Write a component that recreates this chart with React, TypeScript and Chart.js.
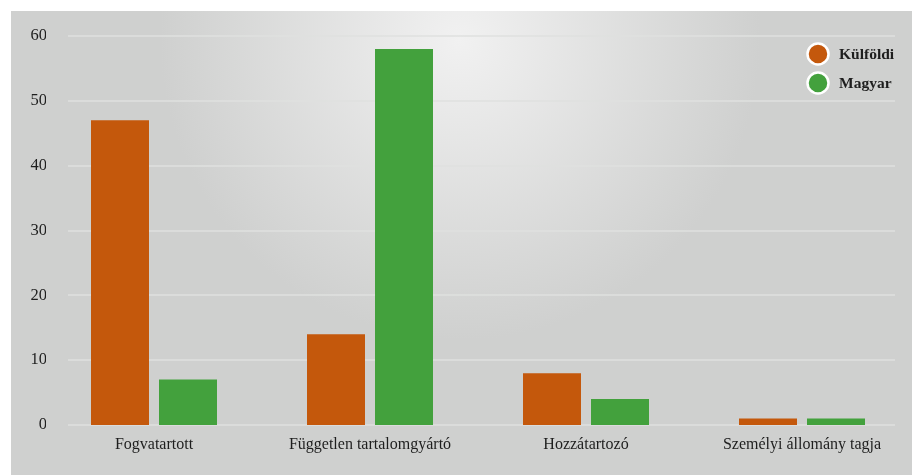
import React, { useEffect, useRef } from "react";
import { Chart, registerables } from "chart.js";

Chart.register(...registerables);

const categories = ["Fogvatartott", "Független tartalomgyártó", "Hozzátartozó", "Személyi állomány tagja"];
const seriesNames = ["Külföldi", "Magyar"];
const kulfoldi = [47, 14, 8, 1];
const magyar = [7, 58, 4, 1];
const yTicks = [0, 10, 20, 30, 40, 50, 60];
const colors = ["#c4580c", "#43a13d"];

const FONT = "'Liberation Serif', 'Times New Roman', serif";

const gridPlugin = {
  id: "customGrid",
  beforeDatasetsDraw(chart: any) {
    const { ctx, scales } = chart;
    const y = scales.y;
    ctx.save();
    ctx.strokeStyle = "#dfe0df";
    ctx.lineWidth = 1.5;
    yTicks.forEach((v) => {
      const py = Math.round(y.getPixelForValue(v));
      ctx.beginPath();
      ctx.moveTo(57, py);
      ctx.lineTo(884, py);
      ctx.stroke();
    });
    ctx.restore();
  },
};

const legendPlugin = {
  id: "customLegend",
  afterDraw(chart: any) {
    const { ctx } = chart;
    const cx = 807;
    const rows = [43, 72];
    ctx.save();
    seriesNames.forEach((name, i) => {
      const cy = rows[i];
      ctx.beginPath();
      ctx.arc(cx, cy, 10.5, 0, Math.PI * 2);
      ctx.fillStyle = colors[i];
      ctx.fill();
      ctx.lineWidth = 2.5;
      ctx.strokeStyle = "#ffffff";
      ctx.stroke();
      ctx.fillStyle = "#1e1e1e";
      ctx.font = `bold 15.5px ${FONT}`;
      ctx.textAlign = "left";
      ctx.textBaseline = "middle";
      ctx.fillText(name, 828, cy + 1);
    });
    ctx.restore();
  },
};

export default function App() {
  const ref = useRef<HTMLCanvasElement | null>(null);

  useEffect(() => {
    if (!ref.current) return;
    const chart = new Chart(ref.current, {
      type: "bar",
      data: {
        labels: categories,
        datasets: [
          { label: seriesNames[0], data: kulfoldi, backgroundColor: colors[0], borderWidth: 0 },
          { label: seriesNames[1], data: magyar, backgroundColor: colors[1], borderWidth: 0 },
        ],
      },
      plugins: [gridPlugin, legendPlugin],
      options: {
        animation: false,
        responsive: false,
        maintainAspectRatio: false,
        layout: { padding: { top: 25, right: 2, bottom: 0, left: 0 } },
        datasets: {
          bar: { categoryPercentage: 136 / 216, barPercentage: 58 / 68 },
        },
        plugins: {
          legend: { display: false },
          tooltip: { enabled: false },
        },
        scales: {
          x: {
            grid: { display: false, drawTicks: false },
            border: { display: false },
            ticks: {
              color: "#1e1e1e",
              font: { family: FONT, size: 16 },
              padding: 10,
              maxRotation: 0,
              autoSkip: false,
            },
            afterFit(scale: any) {
              scale.height = 50;
            },
          },
          y: {
            min: 0,
            max: 60,
            grid: { display: false, drawTicks: false },
            border: { display: false },
            ticks: {
              stepSize: 10,
              color: "#1e1e1e",
              font: { family: FONT, size: 16.5 },
              padding: -1,
            },
            afterFit(scale: any) {
              scale.width = 35;
            },
          },
        },
      },
    });
    return () => chart.destroy();
  }, []);

  return (
    <div
      style={{
        position: "fixed",
        left: 11,
        top: 11,
        width: 901,
        height: 464,
        background: "radial-gradient(circle 300px at 449px 29px, #f1f1f1 0%, #cfd0cf 100%)",
      }}
    >
      <canvas ref={ref} width={901} height={464} style={{ display: "block" }} />
    </div>
  );
}
